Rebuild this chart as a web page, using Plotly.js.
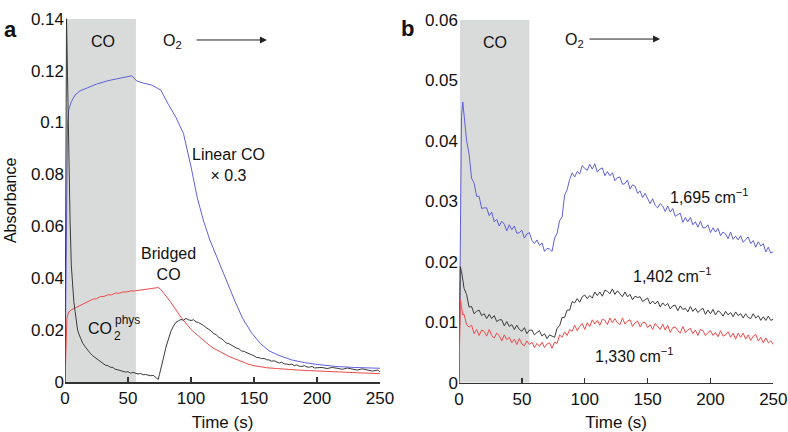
<!DOCTYPE html>
<html>
<head>
<meta charset="utf-8">
<script src="https://cdn.plot.ly/plotly-3.0.1.min.js"></script>
<style>html,body{margin:0;padding:0;background:#fff;}#chart{width:788px;height:432px;}</style>
</head>
<body>
<div id="chart"></div>
<script>
// ---------- Panel a ----------
const tLinear = [0,1,2,3,5,8,12,18,25,34,42,50,53,57,62,69,76,82,88,94,100,105,110,115,120,128,135,141,148,155,162,170,180,190,200,215,230,250];
const linearCO = [0,0.050,0.100,0.105,0.108,0.1106,0.1122,0.1134,0.1148,0.1161,0.1168,0.1177,0.1180,0.1160,0.1152,0.1144,0.1125,0.1070,0.1020,0.0958,0.0830,0.0710,0.0620,0.0547,0.0490,0.0393,0.0310,0.0245,0.0190,0.0149,0.0120,0.0102,0.0085,0.0075,0.0068,0.0060,0.0056,0.0053];

const tBridged = [0,0.5,1,1.5,2,3,5,8,10,13,
  16,19,22,25,28,31,34,37,40,43,
  46,49,52,55,58,61,64,67,70,72,
  74,76,78,80,82,84,86,88,90,92,
  94,96,98,100,103,106,109,112,115,118,
  121,124,127,130,134,138,142,146,150,155,
  160,168,176,185,194,205,215,225,235,242,
  247,250];
const bridgedCO = [0,0.012,0.020,0.0245,0.0255,0.0270,0.0278,0.0285,0.0290,0.0297,
  0.0305,0.0310,0.0319,0.0321,0.0329,0.0330,0.0336,0.0336,0.0343,0.0342,
  0.0347,0.0347,0.0351,0.0351,0.0353,0.0354,0.0357,0.0357,0.0361,0.0360,
  0.0364,0.0357,0.0346,0.0334,0.0320,0.0307,0.0292,0.0278,0.0264,0.0250,
  0.0238,0.0225,0.0213,0.0203,0.0189,0.0176,0.0163,0.0152,0.0140,0.0130,
  0.0122,0.0115,0.0106,0.0099,0.0091,0.0083,0.0074,0.0068,0.0063,0.0059,
  0.0055,0.0052,0.0048,0.0046,0.0044,0.0041,0.0039,0.0037,0.0035,0.0034,
  0.0031,0.0032];

const tPhys = [0,0.6,1.2,2,3,4,5,6,7,8,
  9,10,11,12,14,16,18,20,22,24,
  26,28,30,32,34,36,38,40,42,44,
  46,48,50,52,54,56,58,60,62,64,
  66,68,70,72,74,75,76,78,80,82,
  84,86,88,90,92,94,96,98,100,102,
  104,106,108,110,112,114,116,118,120,122,
  124,126,128,130,132,134,136,138,140,142,
  144,146,148,150,152,154,156,158,160,162,
  164,166,168,170,172,174,176,178,180,182,
  184,186,188,190,192,194,196,198,200,204,
  208,212,216,220,224,228,232,236,240,244,
  248,250];
const co2Phys = [0,0.070,0.141,0.118,0.085,0.0624,0.045,0.037,0.031,0.0272,
  0.0225,0.0200,0.0185,0.0172,0.0150,0.0136,0.0121,0.0111,0.0101,0.0094,
  0.0086,0.0077,0.0073,0.0065,0.0063,0.0057,0.0056,0.0049,0.0047,0.0044,
  0.0040,0.0038,0.0040,0.0034,0.0037,0.0035,0.0031,0.0033,0.0028,0.0029,
  0.0027,0.0024,0.0026,0.0016,0.0010,0.0030,0.0055,0.0090,0.0132,0.0168,
  0.0195,0.0215,0.0230,0.0236,0.0241,0.0238,0.0245,0.0240,0.0237,0.0240,
  0.0232,0.0229,0.0224,0.0218,0.0210,0.0205,0.0197,0.0186,0.0183,0.0172,
  0.0168,0.0160,0.0150,0.0148,0.0142,0.0135,0.0131,0.0128,0.0120,0.0118,
  0.0113,0.0107,0.0105,0.0101,0.0095,0.0094,0.0090,0.0091,0.0086,0.0085,
  0.0080,0.0082,0.0077,0.0073,0.0076,0.0070,0.0069,0.0067,0.0069,0.0063,
  0.0066,0.0061,0.0060,0.0063,0.0058,0.0057,0.0060,0.0054,0.0055,0.0056,
  0.0052,0.0056,0.0053,0.0049,0.0054,0.0050,0.0046,0.0051,0.0047,0.0042,
  0.0046,0.0040];

// ---------- Panel b ----------
const tB = [0,1,2,3,
  4,6,8,10,12,14,16,18,20,22,
  24,26,28,30,32,34,36,38,40,42,
  44,46,48,50,52,54,56,58,60,62,
  64,66,68,70,72,74,76,78,80,82,
  84,86,88,90,92,94,96,98,100,102,
  104,106,108,110,112,114,116,118,120,122,
  124,126,128,130,132,134,136,138,140,142,
  144,146,148,150,152,154,156,158,160,162,
  164,166,168,170,172,174,176,178,180,182,
  184,186,188,190,192,194,196,198,200,202,
  204,206,208,210,212,214,216,218,220,222,
  224,226,228,230,232,234,236,238,240,242,
  244,246,248,250];
const band1695 = [0,0.0300,0.0440,0.0464,
  0.0443,0.0401,0.0378,0.0338,0.0330,0.0308,0.0308,0.0288,0.0289,0.0289,
  0.0276,0.0282,0.0266,0.0270,0.0259,0.0267,0.0262,0.0251,0.0261,0.0253,
  0.0259,0.0247,0.0248,0.0252,0.0239,0.0246,0.0248,0.0235,0.0230,0.0236,
  0.0227,0.0231,0.0217,0.0222,0.0221,0.0217,0.0239,0.0247,0.0268,0.0274,
  0.0310,0.0319,0.0336,0.0347,0.0340,0.0349,0.0345,0.0359,0.0354,0.0351,
  0.0361,0.0353,0.0362,0.0348,0.0353,0.0355,0.0342,0.0349,0.0342,0.0347,
  0.0334,0.0339,0.0340,0.0328,0.0329,0.0335,0.0320,0.0327,0.0325,0.0313,
  0.0317,0.0306,0.0313,0.0305,0.0296,0.0304,0.0293,0.0289,0.0296,0.0292,
  0.0283,0.0292,0.0282,0.0288,0.0275,0.0278,0.0280,0.0265,0.0273,0.0266,
  0.0273,0.0261,0.0266,0.0257,0.0267,0.0256,0.0256,0.0261,0.0248,0.0256,
  0.0249,0.0255,0.0243,0.0249,0.0246,0.0238,0.0249,0.0237,0.0242,0.0236,
  0.0243,0.0232,0.0237,0.0241,0.0230,0.0235,0.0224,0.0233,0.0226,0.0230,
  0.0216,0.0224,0.0214,0.0217];
const band1402 = [0,0.0192,0.0184,0.0168,
  0.0156,0.0146,0.0125,0.0126,0.0114,0.0118,0.0120,0.0111,0.0114,0.0106,
  0.0113,0.0106,0.0111,0.0101,0.0104,0.0104,0.0094,0.0101,0.0093,0.0096,
  0.0088,0.0095,0.0088,0.0085,0.0091,0.0081,0.0087,0.0087,0.0079,0.0083,
  0.0086,0.0077,0.0081,0.0073,0.0079,0.0077,0.0075,0.0090,0.0094,0.0108,
  0.0108,0.0120,0.0120,0.0134,0.0132,0.0139,0.0133,0.0142,0.0145,0.0139,
  0.0144,0.0140,0.0150,0.0144,0.0150,0.0143,0.0153,0.0151,0.0147,0.0155,
  0.0146,0.0152,0.0146,0.0142,0.0150,0.0142,0.0146,0.0137,0.0143,0.0141,
  0.0142,0.0134,0.0137,0.0140,0.0130,0.0135,0.0130,0.0135,0.0125,0.0132,
  0.0127,0.0131,0.0122,0.0127,0.0128,0.0119,0.0127,0.0121,0.0123,0.0117,
  0.0126,0.0118,0.0123,0.0116,0.0120,0.0123,0.0113,0.0120,0.0114,0.0121,
  0.0112,0.0119,0.0116,0.0110,0.0118,0.0112,0.0116,0.0109,0.0117,0.0111,
  0.0114,0.0107,0.0114,0.0108,0.0106,0.0114,0.0107,0.0111,0.0103,0.0109,
  0.0103,0.0110,0.0103,0.0105];
const band1330 = [0,0.0137,0.0126,0.0112,
  0.0113,0.0096,0.0092,0.0095,0.0081,0.0088,0.0078,0.0087,0.0085,0.0077,
  0.0088,0.0078,0.0074,0.0082,0.0078,0.0069,0.0079,0.0071,0.0075,0.0066,
  0.0072,0.0063,0.0073,0.0064,0.0061,0.0069,0.0063,0.0067,0.0058,0.0065,
  0.0060,0.0067,0.0058,0.0064,0.0066,0.0057,0.0067,0.0065,0.0079,0.0075,
  0.0084,0.0078,0.0088,0.0085,0.0095,0.0086,0.0093,0.0098,0.0088,0.0099,
  0.0093,0.0104,0.0097,0.0103,0.0095,0.0105,0.0103,0.0096,0.0107,0.0099,
  0.0106,0.0099,0.0096,0.0107,0.0097,0.0102,0.0104,0.0093,0.0099,0.0102,
  0.0092,0.0099,0.0100,0.0091,0.0096,0.0088,0.0098,0.0093,0.0088,0.0097,
  0.0087,0.0095,0.0083,0.0091,0.0092,0.0086,0.0082,0.0093,0.0083,0.0087,
  0.0090,0.0081,0.0087,0.0078,0.0088,0.0086,0.0078,0.0083,0.0086,0.0078,
  0.0083,0.0076,0.0086,0.0077,0.0079,0.0084,0.0075,0.0082,0.0072,0.0082,
  0.0075,0.0082,0.0072,0.0079,0.0070,0.0077,0.0080,0.0069,0.0075,0.0066,
  0.0074,0.0066,0.0069,0.0063];

const xTicks = [0,50,100,150,200,250];
const xTickText = ['0','50','100','150','200','250'];
const yTicksA = [0,0.02,0.04,0.06,0.08,0.10,0.12,0.14];
const yTickTextA = ['0','0.02','0.04','0.06','0.08','0.1','0.12','0.14'];
const yTicksB = [0,0.01,0.02,0.03,0.04,0.05,0.06];
const yTickTextB = ['0','0.01','0.02','0.03','0.04','0.05','0.06'];

const BLUE = '#5f5fdd', RED = '#f04a4a', BLACK = '#3a3a3a';
const FONT = 'Liberation Sans, Arial, Helvetica, sans-serif';

const traces = [
  {x: tLinear, y: linearCO, xaxis:'x', yaxis:'y', mode:'lines', line:{color:BLUE, width:1}},
  {x: tBridged, y: bridgedCO, xaxis:'x', yaxis:'y', mode:'lines', line:{color:RED, width:1}},
  {x: tPhys, y: co2Phys, xaxis:'x', yaxis:'y', mode:'lines', line:{color:BLACK, width:1}},
  {x: tB, y: band1695, xaxis:'x2', yaxis:'y2', mode:'lines', line:{color:BLUE, width:1}},
  {x: tB, y: band1402, xaxis:'x2', yaxis:'y2', mode:'lines', line:{color:BLACK, width:1}},
  {x: tB, y: band1330, xaxis:'x2', yaxis:'y2', mode:'lines', line:{color:RED, width:1}}
];

function xax(domain, anchor){
  return {domain:domain, anchor:anchor, range:[0,250], tickvals:xTicks, ticktext:xTickText,
    ticks:'inside', ticklen:5, tickwidth:1.5, tickcolor:'#333', showline:true, linecolor:'#333', linewidth:1.5,
    showgrid:false, zeroline:false, tickfont:{size:17, color:'#111'},
    title:{text:'Time (s)', font:{size:17, color:'#111'}, standoff:13}};
}
function yax(domain, anchor, range, tv, tt, title){
  return {domain:domain, anchor:anchor, range:range, tickvals:tv, ticktext:tt, ticks:'',
    showline:false, showgrid:false, zeroline:false, tickfont:{size:17, color:'#111'},
    title:{text:title, font:{size:16, color:'#111'}, standoff:10}};
}

const ann = (x,y,xr,yr,text,opts) => Object.assign({x:x, y:y, xref:xr, yref:yr, text:text, showarrow:false,
  font:{size:16, color:'#111', family:FONT}}, opts||{});

const layout = {
  width:788, height:432, margin:{l:0,r:0,t:0,b:0}, showlegend:false,
  paper_bgcolor:'#fff', plot_bgcolor:'#fff', font:{family:FONT, color:'#111'},
  xaxis: xax([0.0825,0.4822],'y'),
  yaxis: yax([0.1157,0.9567],'x',[0,0.14],yTicksA,yTickTextA,'Absorbance'),
  xaxis2: xax([0.5825,0.9814],'y2'),
  yaxis2: yax([0.1141,0.9544],'x2',[0,0.06],yTicksB,yTickTextB,''),
  shapes: [
    {type:'rect', xref:'x', yref:'y', x0:0.8, x1:56.3, y0:0, y1:0.14, fillcolor:'#d9dbdb', line:{width:0}, layer:'below'},
    {type:'rect', xref:'x2', yref:'y2', x0:0.8, x1:56, y0:0, y1:0.06, fillcolor:'#d9dbdb', line:{width:0}, layer:'below'}
  ],
  annotations: [
    ann(0.002,0.965,'paper','paper','<b>a</b>',{xanchor:'left', font:{size:22,color:'#111',family:FONT}}),
    ann(0.506,0.967,'paper','paper','<b>b</b>',{xanchor:'left', font:{size:22,color:'#111',family:FONT}}),
    ann(29.8,0.1314,'x','y','CO'),
    ann(85.3,0.1314,'x','y','O<sub>2</sub>'),
    {x:160.3, y:0.1318, xref:'x', yref:'y', ax:103.2, ay:0.1318, axref:'x', ayref:'y', text:'', showarrow:true,
      arrowhead:2, arrowsize:1.4, arrowwidth:1, arrowcolor:'#222'},
    ann(129.8,0.0836,'x','y','Linear CO<br>× 0.3'),
    ann(82.5,0.0453,'x','y','Bridged<br>CO'),
    ann(27.8,0.0208,'x','y','CO'),
    ann(37.8,0.0239,'x','y','phys',{xanchor:'left', font:{size:12,color:'#111',family:FONT}}),
    ann(37.3,0.0177,'x','y','2',{xanchor:'left', font:{size:12,color:'#111',family:FONT}}),
    ann(29,0.0563,'x2','y2','CO'),
    ann(91.5,0.0566,'x2','y2','O<sub>2</sub>'),
    {x:159.9, y:0.0568, xref:'x2', yref:'y2', ax:102.6, ay:0.0568, axref:'x2', ayref:'y2', text:'', showarrow:true,
      arrowhead:2, arrowsize:1.4, arrowwidth:1, arrowcolor:'#222'},
    ann(198.9,0.0308,'x2','y2','1,695 cm<sup>−1</sup>'),
    ann(169.5,0.0178,'x2','y2','1,402 cm<sup>−1</sup>'),
    ann(139.2,0.00466,'x2','y2','1,330 cm<sup>−1</sup>')
  ]
};

Plotly.newPlot('chart', traces, layout, {staticPlot:true, displayModeBar:false});
</script>
</body>
</html>
